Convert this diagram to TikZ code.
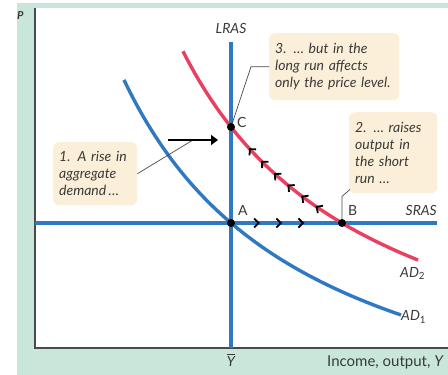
\documentclass[tikz,border=0pt]{standalone}
\usepackage{fontspec}
\setmainfont{Lato}
\usetikzlibrary{arrows.meta,decorations.markings,positioning}
\definecolor{panelgreen}{HTML}{C9E6DB}
\definecolor{curveblue}{HTML}{2F78C2}
\definecolor{curvered}{HTML}{E8405E}
\definecolor{notefill}{HTML}{FCEFD9}
\definecolor{notetext}{HTML}{3A3A3A}
\definecolor{axisgray}{HTML}{4A4A4A}
\tikzset{
	note/.style={fill=notefill, rounded corners=6pt, align=left, anchor=north west,
		inner xsep=6pt, inner ysep=6pt, text=notetext,
		font=\itshape\fontsize{14}{17}\selectfont},
	leader/.style={draw=axisgray, line width=0.7pt},
	curvelabel/.style={text=notetext, font=\itshape\fontsize{14}{16}\selectfont},
	ptlabel/.style={text=notetext, font=\fontsize{14}{16}\selectfont},
	eqpoint/.style={circle, fill=black, inner sep=0pt, minimum size=8pt},
	chev/.tip={Straight Barb[length=4.5pt, width=9pt, line width=1.8pt]},
	schedule/.style={line width=3.4pt}
}

\begin{document}
\begin{tikzpicture}[x=1pt, y=-1pt]
	\useasboundingbox (0,0) rectangle (448,375);
	\clip (0,0) rectangle (448,375);

	% Panel and plot area
	\fill[panelgreen] (17,3) rectangle (448,375);
	\fill[white] (35,8) rectangle (448,348);
	\draw[axisgray, line width=1.3pt] (35,8) -- (35,348) -- (448,348);

	% Equilibrium points
	\coordinate (A) at (231,223);
	\coordinate (B) at (342,223);
	\coordinate (C) at (231,127);

	% Schedules
	\draw[schedule, curveblue] (231,42) -- (231,348);
	\draw[schedule, curveblue] (35,223) -- (437,223);
	\draw[schedule, curveblue] plot[domain=124:401, samples=60] (\x, {474.9 - 744.45/((\x+64.5)/100)});
	\draw[schedule, curvered, postaction={decorate}, decoration={markings,
		mark=between positions 0.365 and 0.65 step 0.055 with {\arrowreversed[black]{chev}}}]
		plot[domain=183:418, samples=60] (\x, {431.3 - 732.65/((\x+9.8)/100)});
	\path[postaction={decorate}, decoration={markings,
		mark=between positions 0.26 and 0.66 step 0.2 with {\arrow[black]{chev}}}]
		(A) -- (B);

	% Shift of demand
	\coordinate (shiftTail) at (168,140);
	\coordinate (shiftMid) at (193,140);
	\coordinate (shiftHead) at (218,140);

	% Notes
	\node[note, text width=72pt, minimum height=63pt] (riseNote) at (53,142)
		{1. A rise in\\aggregate\\demand\,\ldots};
	\node[note, text width=118pt, minimum height=67pt] (longNote) at (269,33)
		{3. \ldots\ but in the\\long run affects\\only the price level.};
	\node[note, text width=76pt, minimum height=81pt] (shortNote) at (349,112)
		{2. \ldots\ raises\\output in\\the short\\run \ldots};

	\draw[leader] (riseNote.east) -- (shiftMid);
	\draw[leader] (longNote.west) -- ++(-18,0) -- (C);
	\draw[leader] ([xshift=1pt, yshift=4pt]shortNote.south west) -- ++(-8,7) -- (B);
	\draw[line width=2.8pt, -{Triangle[length=7pt, width=10pt]}] (shiftTail) -- (shiftHead);

	\node[eqpoint] (ptA) at (A) {};
	\node[eqpoint] (ptB) at (B) {};
	\node[eqpoint] (ptC) at (C) {};

	% Labels
	\node[ptlabel, anchor=south west, inner sep=0pt] at (238,216) {A};
	\node[ptlabel, anchor=south west, inner sep=0pt] at (348,216) {B};
	\node[ptlabel, anchor=west, inner sep=0pt] at (237,122) {C};
	\node[curvelabel, anchor=south] at (231,37) {LRAS};
	\node[curvelabel, anchor=south east, inner sep=0pt] at (437,216) {SRAS};
	\node[curvelabel, anchor=north west, inner sep=0pt] at (400,267) {AD\textsubscript{\upshape 2}};
	\node[curvelabel, anchor=west, inner sep=0pt] at (401,317) {AD\textsubscript{\upshape 1}};
	\node[curvelabel, anchor=north west, inner sep=0pt, font=\itshape\bfseries\fontsize{11}{13}\selectfont] at (17,11) {P};
	\node[ptlabel, inner sep=0pt] at (231,360) {$\overline{\mbox{\itshape Y}}$};
	\node[ptlabel, anchor=base west, inner sep=0pt, font=\fontsize{15}{17}\selectfont] at (327,366) {Income, output, \textit{Y}};
\end{tikzpicture}
\end{document}
